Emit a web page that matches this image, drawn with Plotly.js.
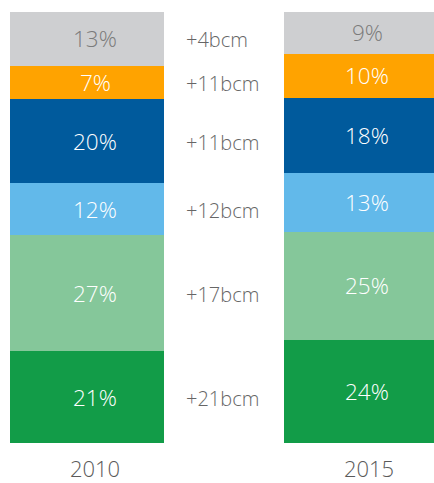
<!DOCTYPE html>
<html>
<head>
<meta charset="utf-8">
<script src="https://cdn.plot.ly/plotly-3.0.1.min.js"></script>
<style>html,body{margin:0;padding:0;background:#fff;}#chart{width:434px;height:483px;}</style>
</head>
<body>
<div id="chart"></div>
<script>
// Data (bottom to top)
const years = ['2010', '2015'];
const segmentNames = ['Dark green', 'Light green', 'Light blue', 'Dark blue', 'Orange', 'Grey'];
const share2010 = [21.3, 26.9, 12.1, 19.5, 7.7, 12.5];
const share2015 = [23.9, 25.1, 13.7, 17.4, 10.2, 9.7];
const label2010 = ['21%', '27%', '12%', '20%', '7%', '13%'];
const label2015 = ['24%', '25%', '13%', '18%', '10%', '9%'];
const increments = ['+21bcm', '+17bcm', '+12bcm', '+11bcm', '+11bcm', '+4bcm'];

const colors = ['#129c48', '#85c79a', '#62b9ea', '#005a9c', '#ffa300', '#cecfd1'];
const textColors = ['#ffffff', '#ffffff', '#ffffff', '#ffffff', '#ffffff', '#7b7b7b'];
const FONT = '"Open Sans", "Noto Sans", sans-serif';

const traces = segmentNames.map((name, i) => ({
  type: 'bar',
  name: name,
  x: years,
  y: [share2010[i], share2015[i]],
  marker: {color: colors[i], line: {width: 0}},
  hoverinfo: 'skip',
  showlegend: false
}));

// cumulative centres
function centers(arr) {
  const out = []; let acc = 0;
  arr.forEach(v => { out.push(acc + v / 2); acc += v; });
  return out;
}
const c2010 = centers(share2010);
const c2015 = centers(share2015);

const annotations = [];
segmentNames.forEach((n, i) => {
  annotations.push({x: 0, y: c2010[i], xref: 'x', yref: 'y', text: label2010[i], showarrow: false,
    xshift: 8, font: {family: FONT, size: 22.5, weight: 300, color: textColors[i]}});
  annotations.push({x: 1, y: c2015[i], xref: 'x', yref: 'y', text: label2015[i], showarrow: false,
    xshift: 6, font: {family: FONT, size: 22.5, weight: 300, color: textColors[i]}});
  annotations.push({x: 0.5, y: c2010[i], xref: 'x', yref: 'y', text: increments[i], showarrow: false,
    xanchor: 'left', xshift: -40, yshift: -1,
    font: {family: FONT, size: 20, weight: 300, color: '#666666'}});
});

const layout = {
  width: 434, height: 483,
  margin: {l: 0, r: 0, t: 12, b: 40},
  paper_bgcolor: '#ffffff', plot_bgcolor: '#ffffff',
  barmode: 'stack',
  bargap: 0.438,
  xaxis: {type: 'category', range: [-0.3175, 1.2664], showgrid: false, zeroline: false, showline: false,
    ticks: '', ticklabelshift: 8, ticklabelstandoff: 11,
    tickfont: {family: FONT, size: 22, weight: 300, color: '#5a5a5a'}, fixedrange: true},
  yaxis: {range: [0, 100], visible: false, fixedrange: true},
  annotations: annotations,
  showlegend: false
};

Plotly.newPlot('chart', traces, layout, {displayModeBar: false, staticPlot: true});
</script>
</body>
</html>
